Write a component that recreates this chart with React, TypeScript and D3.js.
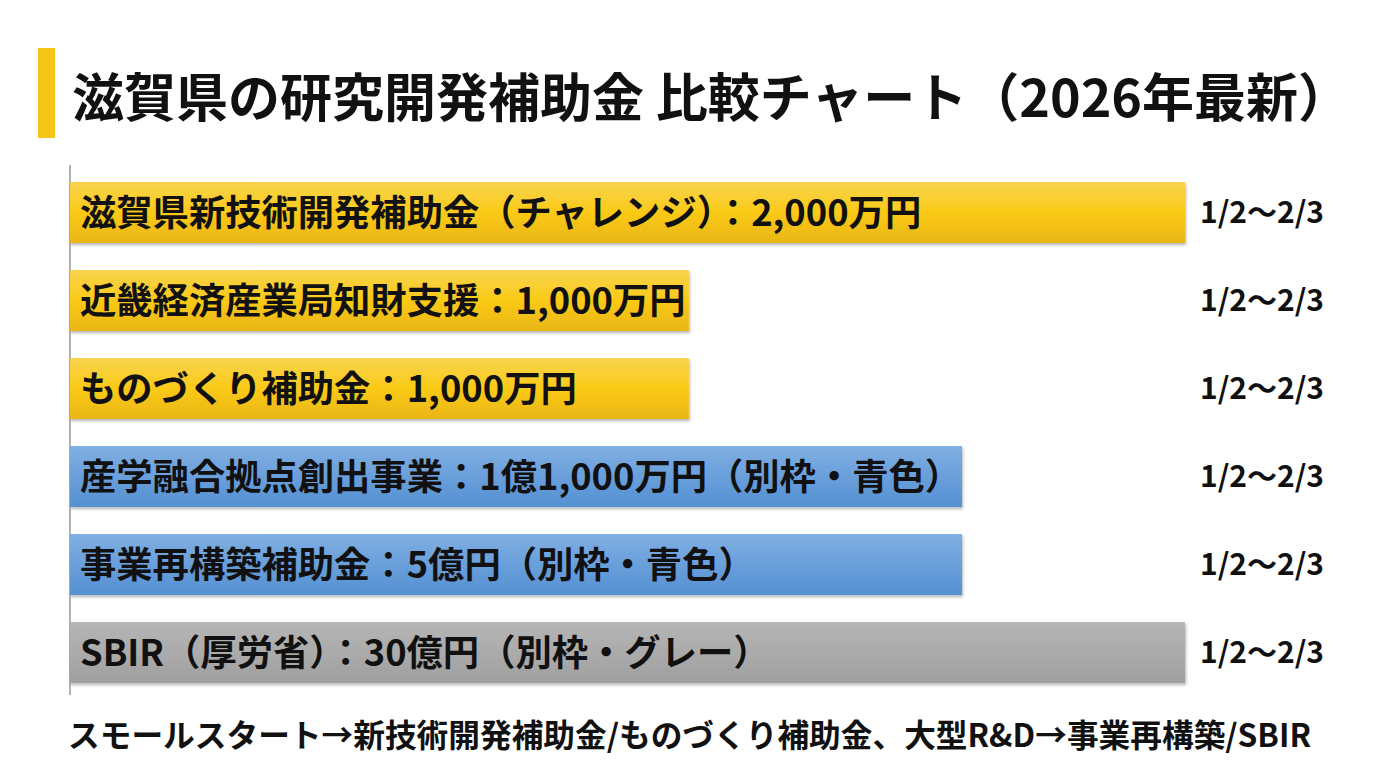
import React from "react";
import * as d3 from "d3";

const title = "滋賀県の研究開発補助金 比較チャート（2026年最新）";
const labels = [
  "滋賀県新技術開発補助金（チャレンジ）：2,000万円",
  "近畿経済産業局知財支援：1,000万円",
  "ものづくり補助金：1,000万円",
  "産学融合拠点創出事業：1億1,000万円（別枠・青色）",
  "事業再構築補助金：5億円（別枠・青色）",
  "SBIR（厚労省）：30億円（別枠・グレー）",
];
const values = [100, 55.5, 55.5, 80, 80, 100];
const groups = ["yellow", "yellow", "yellow", "blue", "blue", "gray"];
const rates = ["1/2〜2/3", "1/2〜2/3", "1/2〜2/3", "1/2〜2/3", "1/2〜2/3", "1/2〜2/3"];
const footer = "スモールスタート→新技術開発補助金/ものづくり補助金、大型R&D→事業再構築/SBIR";

const W = 1376;
const H = 768;
const FONT = "'Noto Sans CJK JP', 'Noto Sans', sans-serif";

export default function App() {
  const x = d3.scaleLinear().domain([0, 100]).range([70, 1185]);
  const y = d3
    .scaleBand<number>()
    .domain(d3.range(labels.length))
    .range([168.5, 696.5])
    .paddingInner(0.307)
    .paddingOuter(0.153);
  const grads: Record<string, [string, string, string]> = {
    yellow: ["#f8d44e", "#fbca18", "#e9b612"],
    blue: ["#80afe2", "#6a9fdb", "#5590d2"],
    gray: ["#b5b5b5", "#ababab", "#9f9f9f"],
  };
  return (
    <div style={{ position: "absolute", left: 0, top: 0, width: W, height: H, background: "#fff" }}>
      <svg width={W} height={H} style={{ display: "block" }}>
        <defs>
          {Object.keys(grads).map((k) => (
            <linearGradient key={k} id={`g-${k}`} x1="0" y1="0" x2="0" y2="1">
              <stop offset="0%" stopColor={grads[k][0]} />
              <stop offset="50%" stopColor={grads[k][1]} />
              <stop offset="100%" stopColor={grads[k][2]} />
            </linearGradient>
          ))}
          <filter id="sh" x="-5%" y="-20%" width="110%" height="150%">
            <feDropShadow dx="1" dy="2" stdDeviation="1.5" floodColor="#000" floodOpacity="0.3" />
          </filter>
        </defs>
        <rect x={0} y={0} width={W} height={H} fill="#fff" />
        <rect x={38} y={48} width={17} height={90} fill="#f5c518" />
        <text x={72} y={117} fontFamily={FONT} fontWeight={700} fontSize={52} fill="#111">
          {title}
        </text>
        <line x1={70} x2={70} y1={165} y2={695} stroke="#999" strokeWidth={1.5} />
        {labels.map((l, i) => {
          const yy = y(i)!;
          const bh = y.bandwidth();
          return (
            <g key={i}>
              <rect
                x={x(0)}
                y={yy}
                width={x(values[i]) - x(0)}
                height={bh}
                fill={`url(#g-${groups[i]})`}
                filter="url(#sh)"
              />
              <text
                x={80}
                y={yy + bh / 2}
                dy="0.36em"
                fontFamily={FONT}
                fontWeight={700}
                fontSize={36.3}
                fill="#111"
              >
                {l}
              </text>
              <text
                x={1200}
                y={yy + bh / 2}
                dy="0.36em"
                fontFamily={FONT}
                fontWeight={700}
                fontSize={30}
                fill="#111"
              >
                {rates[i]}
              </text>
            </g>
          );
        })}
        <text x={68} y={747} fontFamily={FONT} fontWeight={700} fontSize={31.7} fill="#111">
          {footer}
        </text>
      </svg>
    </div>
  );
}
